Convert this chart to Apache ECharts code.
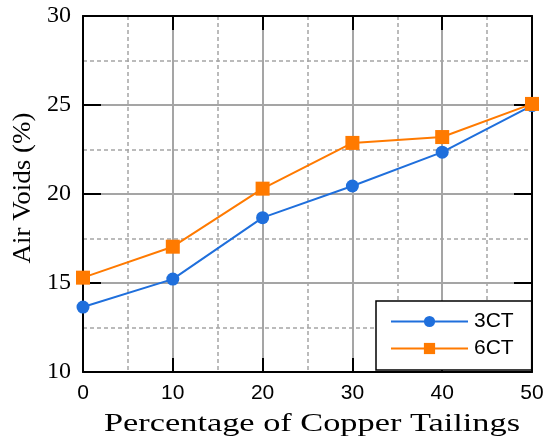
<!DOCTYPE html>
<html>
<head>
<meta charset="utf-8">
<script src="https://cdn.jsdelivr.net/npm/echarts@6/dist/echarts.min.js"></script>
<style>
  html, body { margin: 0; padding: 0; background: #fff; }
  #chart { width: 548px; height: 439px; }
</style>
</head>
<body>
<div id="chart"></div>
<script>
// Percentage of copper tailings (x) and air voids (%) for each mix
const tailings = [0, 10, 20, 30, 40, 50];
const voids3CT = [13.65, 15.22, 18.67, 20.45, 22.35, 24.97];
const voids6CT = [15.30, 17.04, 20.30, 22.87, 23.20, 25.06];
const seriesNames = ['3CT', '6CT'];
const xTicks = [0, 10, 20, 30, 40, 50];
const yTicks = [10, 15, 20, 25, 30];

const SERIF = '"Liberation Serif", "Times New Roman", serif';
const SANS = '"Liberation Sans", Arial, sans-serif';
const gridGray = '#a5a5a5';

const chart = echarts.init(document.getElementById('chart'), null, { renderer: 'canvas' });

const pairs = (ys) => tailings.map((x, i) => [x, ys[i]]);

const frameAxis = (extra) => Object.assign({
  axisLine: { show: true, onZero: false, lineStyle: { color: '#000', width: 2 } },
  axisTick: { show: true, inside: true, length: 14, lineStyle: { color: '#000', width: 2 } },
  axisLabel: { show: false },
  splitLine: { show: false },
  minorSplitLine: { show: false }
}, extra);

const option = {
  backgroundColor: '#fff',
  animation: false,
  grid: { left: 83, right: 16, top: 16, bottom: 67, containLabel: false },
  xAxis: [
    {
      type: 'value', position: 'bottom',
      min: xTicks[0], max: xTicks[xTicks.length - 1], interval: 10,
      axisLine: { show: true, onZero: false, lineStyle: { color: '#000', width: 2 } },
      axisTick: { show: true, inside: true, length: 14, lineStyle: { color: '#000', width: 2 } },
      axisLabel: { show: true, margin: 11, color: '#000', fontFamily: SANS, fontSize: 21 },
      minorTick: { show: false, splitNumber: 2 },
      splitLine: { show: true, lineStyle: { color: gridGray, width: 2 } },
      minorSplitLine: { show: true, lineStyle: { color: gridGray, width: 1.5, type: [4, 3] } }
    },
    frameAxis({ type: 'value', position: 'top', min: 0, max: 50, interval: 10 })
  ],
  yAxis: [
    {
      type: 'value', position: 'left',
      min: yTicks[0], max: yTicks[yTicks.length - 1], interval: 5,
      axisLine: { show: true, onZero: false, lineStyle: { color: '#000', width: 2 } },
      axisTick: { show: true, inside: true, length: 18, lineStyle: { color: '#000', width: 2 } },
      axisLabel: { show: true, margin: 12, color: '#000', fontFamily: SERIF, fontSize: 24 },
      minorTick: { show: false, splitNumber: 2 },
      splitLine: { show: true, lineStyle: { color: gridGray, width: 2 } },
      minorSplitLine: { show: true, lineStyle: { color: gridGray, width: 1.5, type: [4, 3] } }
    },
    frameAxis({
      type: 'value', position: 'right', min: 10, max: 30, interval: 5,
      axisTick: { show: true, inside: true, length: 18, lineStyle: { color: '#000', width: 2 } }
    })
  ],
  legend: {
    orient: 'vertical',
    left: 376, top: 301,
    padding: [10, 18, 11, 14],
    itemGap: 6,
    itemWidth: 77,
    itemHeight: 14,
    backgroundColor: '#fff',
    borderColor: '#000',
    borderWidth: 1.5,
    borderRadius: 0,
    textStyle: { color: '#000', fontFamily: SANS, fontSize: 21, padding: [0, 0, 0, 1] },
    data: seriesNames,
    z: 20
  },
  series: [
    {
      name: seriesNames[0], type: 'line',
      data: pairs(voids3CT),
      symbol: 'circle', symbolSize: 13,
      color: '#1f6fdc',
      lineStyle: { width: 2 },
      z: 5
    },
    {
      name: seriesNames[1], type: 'line',
      data: pairs(voids6CT),
      symbol: 'rect', symbolSize: 14,
      color: '#ff7a00',
      lineStyle: { width: 2 },
      z: 5
    }
  ],
  graphic: [
    {
      // x-axis title, drawn wide like the figure's stretched lettering
      type: 'text',
      x: 312, y: 424, scaleX: 1.32,
      style: {
        x: 0, y: 0, text: 'Percentage of Copper Tailings',
        font: '26px ' + SERIF, fill: '#000',
        textAlign: 'center', textVerticalAlign: 'middle'
      }
    },
    {
      // y-axis title, reading bottom to top
      type: 'text',
      x: 23, y: 188, rotation: Math.PI / 2, scaleX: 1.08,
      style: {
        x: 0, y: 0, text: 'Air Voids (%)',
        font: '25px ' + SERIF, fill: '#000',
        textAlign: 'center', textVerticalAlign: 'middle'
      }
    }
  ]
};

chart.setOption(option);
</script>
</body>
</html>
